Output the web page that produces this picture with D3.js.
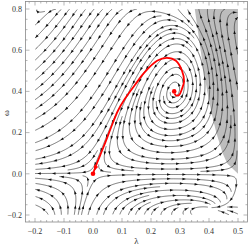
<!DOCTYPE html>
<html>
<head>
<meta charset="utf-8">
<script src="https://cdn.jsdelivr.net/npm/d3@7"></script>
<style>
  body { margin: 0; background: #fff; }
  svg { display: block; }
</style>
</head>
<body>
<svg id="chart" width="249" height="248"></svg>
<script>
// tick values
var lamTicks = [-0.2, -0.1, 0, 0.1, 0.2, 0.3, 0.4, 0.5];
var omTicks = [-0.2, 0, 0.2, 0.4, 0.6, 0.8];

// fixed points of the flow
var origin = [0, 0];
var focus = [0.28, 0.40];
var edgePt = [0.5, 0];

// red trajectory (lambda, omega), origin -> focus
var redPath = [[0, 0], [0.010, 0.039], [0.038, 0.136], [0.066, 0.238], [0.086, 0.306],
  [0.110, 0.364], [0.145, 0.432], [0.176, 0.490], [0.221, 0.549], [0.255, 0.563],
  [0.286, 0.549], [0.307, 0.500], [0.314, 0.451], [0.307, 0.413], [0.297, 0.383],
  [0.286, 0.381], [0.281, 0.389]];

// left edge of the grey region: [omega, lambda]
var grayEdge = [[0, 0.5], [0.05, 0.463], [0.1, 0.447], [0.2, 0.425], [0.3, 0.408],
  [0.4, 0.394], [0.5, 0.382], [0.6, 0.371], [0.7, 0.361], [0.8, 0.351]];

// flow direction read at sample points: [lambda, omega, dlambda, domega]
var flowSamples = [
  [-0.18, 0.78, -1, -0.9], [-0.1, 0.78, -1, -0.9], [-0.02, 0.78, -1, -0.9], [0.06, 0.78, -1, -0.85],
  [-0.18, 0.65, -1, -0.9], [-0.1, 0.65, -1, -0.9], [-0.02, 0.65, -1, -0.95], [0.06, 0.65, -1, -1.0],
  [-0.18, 0.5, -1, -0.85], [-0.1, 0.5, -1, -0.9], [-0.02, 0.5, -1, -0.95], [0.06, 0.5, -1, -1.2],
  [-0.18, 0.38, -1, -0.7], [-0.1, 0.38, -1, -0.8], [-0.02, 0.38, -1, -0.95], [0.05, 0.35, -0.6, -1],
  [-0.15, 0.25, -1, -0.5], [-0.05, 0.25, -1, -0.8],
  [-0.15, 0.13, -1, -0.25], [-0.05, 0.13, -1, -0.6],
  [-0.15, 0.05, -1, -0.08], [-0.05, 0.05, -1, -0.25],
  [-0.15, -0.07, -1, 0.15], [-0.05, -0.07, -1, 0.5],
  [-0.15, -0.17, -0.6, 1], [-0.05, -0.17, -0.2, 1],
  [0.05, -0.07, 1, 0.5], [0.05, -0.17, 0.3, 1],
  [0.15, -0.07, 1, 0.25], [0.15, -0.17, 1, 0.7],
  [0.25, -0.07, 1, 0.15], [0.25, -0.17, 1, 0.6],
  [0.35, -0.07, 1, 0.1], [0.35, -0.17, 1, 0.8],
  [0.45, -0.05, -1, -0.9], [0.43, -0.15, -0.2, -1], [0.49, -0.12, -0.6, -1],
  [0.1, 0.1, 1, -0.3], [0.2, 0.12, 1, -0.1], [0.3, 0.1, 1, 0.05],
  [0.2, 0.22, 1, -0.15], [0.3, 0.2, 1, 0.1], [0.38, 0.12, 1, 0.35], [0.42, 0.22, 1, 0.8],
  [0.37, 0.3, 0.5, 1], [0.36, 0.42, 0.05, 1], [0.34, 0.55, -0.4, 1],
  [0.3, 0.68, -1, 0.6], [0.22, 0.7, -1, 0.05], [0.14, 0.62, -1, -0.7], [0.12, 0.45, -0.5, -1],
  [0.15, 0.77, -1, -0.7], [0.26, 0.77, -1, -0.1], [0.34, 0.75, -0.4, 1],
  [0.42, 0.75, 0.1, 1], [0.48, 0.75, 0.14, 1], [0.42, 0.55, 0.12, 1], [0.47, 0.5, 0.18, 1],
  [0.45, 0.35, 0.25, 1], [0.48, 0.25, 0.4, 1], [0.47, 0.12, 0.9, 1],
  [0.3, 0.02, 1, 0.0], [0.45, 0.03, 1, 0.3]
];

// ---- fit the field  dl = l(1-2l) + w P(l,w),  dw = w G(l,w)  (P, G cubic)
function phi(l, w) { return [1, l, w, l * l, l * w, w * w, l * l * l, l * l * w, l * w * w, w * w * w]; }
function phiL(l, w) { return [0, 1, 0, 2 * l, w, 0, 3 * l * l, 2 * l * w, w * w, 0]; }
function phiW(l, w) { return [0, 0, 1, 0, l, 2 * w, 0, l * l, 2 * l * w, 3 * w * w]; }
var NB = 10, NU = 2 * NB;
function sc(a, k) { return a.map(function(v) { return v * k; }); }
function add(a, b) { return a.map(function(v, i) { return v + b[i]; }); }
var Z = new Array(NB).fill(0);
function unit(k) { var u = Z.slice(); u[0] = k; return u; }

function solve(A, b) {
  var n = b.length;
  var M = A.map(function(row, i) { return row.concat([b[i]]); });
  for (var c = 0; c < n; c++) {
    var p = c;
    for (var r = c + 1; r < n; r++) if (Math.abs(M[r][c]) > Math.abs(M[p][c])) p = r;
    var t = M[c]; M[c] = M[p]; M[p] = t;
    for (var r2 = 0; r2 < n; r2++) {
      if (r2 === c) continue;
      var k = M[r2][c] / M[c][c];
      for (var j = c; j <= n; j++) M[r2][j] -= k * M[c][j];
    }
  }
  return M.map(function(row, i) { return row[n] / row[i]; });
}

var ca = Z.slice(), cb = Z.slice();
function field(l, w) {
  var p = phi(l, w), P = 0, G = 0;
  for (var i = 0; i < NB; i++) { P += ca[i] * p[i]; G += cb[i] * p[i]; }
  return [l * (1 - 2 * l) + w * P, w * G];
}

var speeds = flowSamples.map(function() { return 0.3; });
for (var it = 0; it < 5; it++) {
  var rows = [];
  var addRow = function(cA, cB, rhs, wt) { rows.push({v: cA.concat(cB), r: rhs, wt: wt}); };
  flowSamples.forEach(function(s, si) {
    var l = s[0], w = s[1], m = Math.hypot(s[2], s[3]);
    var ux = s[2] / m, uy = s[3] / m, p = phi(l, w), f0 = l * (1 - 2 * l), sp = speeds[si];
    addRow(sc(p, w * uy), sc(p, -w * ux), -f0 * uy, 1 / sp);
    addRow(sc(p, w * ux), sc(p, w * uy), sp - f0 * ux, 0.25 / sp);
  });
  var lF = focus[0], wF = focus[1];
  var pF = phi(lF, wF), pLF = phiL(lF, wF), pWF = phiW(lF, wF);
  addRow(sc(pF, wF), Z, -lF * (1 - 2 * lF), 60);
  addRow(Z, pF, 0, 60);
  addRow(add(pF, sc(pWF, wF)), Z, -0.5, 15);
  addRow(Z, sc(pLF, wF), 2.0, 15);
  addRow(sc(pLF, wF), add(pF, sc(pWF, wF)), 0.18 - (1 - 4 * lF), 15);
  addRow(unit(1), unit(-0.25), -0.25, 20);
  addRow(Z, unit(1), -1, 8);
  addRow(Z, phi(edgePt[0], edgePt[1]), 0.6, 8);

  var NN = [], Nr = [];
  for (var i = 0; i < NU; i++) { NN.push(new Array(NU).fill(0)); Nr.push(0); NN[i][i] = 1e-6; }
  rows.forEach(function(R) {
    var w2 = R.wt * R.wt;
    for (var i = 0; i < NU; i++) {
      Nr[i] += w2 * R.v[i] * R.r;
      for (var j = 0; j < NU; j++) NN[i][j] += w2 * R.v[i] * R.v[j];
    }
  });
  var coef = solve(NN, Nr);
  ca = coef.slice(0, NB); cb = coef.slice(NB);
  speeds = flowSamples.map(function(s) {
    var v = field(s[0], s[1]);
    return Math.max(0.03, Math.hypot(v[0], v[1]));
  });
}

// ---- chart
var svg = d3.select("#chart");
var x = d3.scaleLinear().domain([-0.2, 0.5]).range([35, 238]);
var y = d3.scaleLinear().domain([-0.2, 0.8]).range([215, 9]);

var X0 = x(-0.2), X1 = x(0.5), Y0 = y(0.8), Y1 = y(-0.2);

svg.append("defs").append("clipPath").attr("id", "plot")
  .append("rect").attr("x", X0).attr("y", Y0).attr("width", X1 - X0).attr("height", Y1 - Y0);

// grey region
var grayPts = grayEdge.map(function(d) { return [d[1], d[0]]; }).concat([[0.5, 0.8], [0.5, 0]]);
svg.append("path")
  .attr("d", d3.line().x(function(d) { return x(d[0]); }).y(function(d) { return y(d[1]); })(grayPts) + "Z")
  .attr("fill", "#bdbdbd");

// ---- evenly spaced streamlines
var kx = x(1) - x(0), ky = y(0) - y(1);
function vel(px, py) {
  var v = field(x.invert(px), y.invert(py));
  var vx = v[0] * kx, vy = -v[1] * ky;
  return [vx, vy, Math.hypot(vx, vy)];
}
var dsep = 6.5, dtest = 3.2, h = 0.7;
var cs = dsep, gcols = Math.ceil((X1 - X0) / cs) + 1, grows = Math.ceil((Y1 - Y0) / cs) + 1;
var grid = [];
for (var g = 0; g < gcols * grows; g++) grid.push([]);
var dead = new Set();
function inside(px, py) { return px >= X0 && px <= X1 && py >= Y0 && py <= Y1; }
function addPt(px, py, id, seq) {
  var ci = Math.floor((px - X0) / cs), cj = Math.floor((py - Y0) / cs);
  grid[cj * gcols + ci].push({x: px, y: py, id: id, seq: seq});
}
function tooClose(px, py, d, id, seq) {
  var ci = Math.floor((px - X0) / cs), cj = Math.floor((py - Y0) / cs);
  for (var i = ci - 1; i <= ci + 1; i++) for (var j = cj - 1; j <= cj + 1; j++) {
    if (i < 0 || j < 0 || i >= gcols || j >= grows) continue;
    var c = grid[j * gcols + i];
    for (var k = 0; k < c.length; k++) {
      var q = c[k];
      if (dead.has(q.id)) continue;
      if (q.id === id && Math.abs(q.seq - seq) < 40) continue;
      var dx = q.x - px, dy = q.y - py;
      if (dx * dx + dy * dy < d * d) return true;
    }
  }
  return false;
}
function trace(sx, sy, id) {
  var fw = [], bw = [];
  [1, -1].forEach(function(dir) {
    var px = sx, py = sy, seq = 0, out = dir > 0 ? fw : bw;
    for (var n = 0; n < 1500; n++) {
      var v1 = vel(px, py); if (v1[2] < 1) break;
      var mx = px + dir * 0.5 * h * v1[0] / v1[2], my = py + dir * 0.5 * h * v1[1] / v1[2];
      var v2 = vel(mx, my); if (v2[2] < 1) break;
      var nx = px + dir * h * v2[0] / v2[2], ny = py + dir * h * v2[1] / v2[2];
      if (!inside(nx, ny)) break;
      seq += dir;
      if (tooClose(nx, ny, dtest, id, seq)) break;
      px = nx; py = ny;
      out.push([px, py]); addPt(px, py, id, seq);
    }
  });
  return bw.reverse().concat([[sx, sy]], fw);
}
var lines = [], nextId = 0;
function trySeed(px, py) {
  if (!inside(px, py)) return null;
  if (tooClose(px, py, dsep * 0.95, -1, 0)) return null;
  if (vel(px, py)[2] < 1) return null;
  var id = nextId++;
  addPt(px, py, id, 0);
  var pts = trace(px, py, id);
  if (pts.length * h < 10) { dead.add(id); return null; }
  var L = {id: id, pts: pts};
  lines.push(L);
  return L;
}
var queue = [];
function processQueue() {
  while (queue.length) {
    var L = queue.shift(), P = L.pts;
    for (var i = 0; i < P.length; i += 3) {
      var a = P[Math.max(0, i - 1)], b = P[Math.min(P.length - 1, i + 1)];
      var tx = b[0] - a[0], ty = b[1] - a[1], tm = Math.hypot(tx, ty) || 1;
      var nx = -ty / tm, ny = tx / tm;
      [1, -1].forEach(function(s) {
        var N = trySeed(P[i][0] + s * dsep * nx, P[i][1] + s * dsep * ny);
        if (N) queue.push(N);
      });
    }
  }
}
var first = trySeed(x(-0.1), y(0.6));
if (first) queue.push(first);
processQueue();
for (var gy = Y0 + 2; gy < Y1; gy += 4) {
  for (var gx = X0 + 2; gx < X1; gx += 4) {
    var N = trySeed(gx, gy);
    if (N) { queue.push(N); processQueue(); }
  }
}

var streams = svg.append("g").attr("clip-path", "url(#plot)");
streams.selectAll("path.stream").data(lines).enter().append("path")
  .attr("class", "stream")
  .attr("d", function(L) { return d3.line()(L.pts); })
  .attr("fill", "none").attr("stroke", "#1e1e1e").attr("stroke-width", 0.6);

// arrowheads along each streamline
var heads = [];
lines.forEach(function(L) {
  var P = L.pts, acc = 0, next = 7;
  for (var i = 1; i < P.length; i++) {
    acc += Math.hypot(P[i][0] - P[i - 1][0], P[i][1] - P[i - 1][1]);
    if (acc >= next && i < P.length - 2) {
      var a = P[i - 1], b = P[Math.min(P.length - 1, i + 1)];
      var tx = b[0] - a[0], ty = b[1] - a[1], tm = Math.hypot(tx, ty) || 1;
      heads.push([P[i][0], P[i][1], tx / tm, ty / tm]);
      next += 15;
    }
  }
});
streams.selectAll("path.head").data(heads).enter().append("path")
  .attr("class", "head")
  .attr("d", function(d) {
    var px = d[0], py = d[1], ux = d[2], uy = d[3], nx = -uy, ny = ux;
    return "M" + (px + 1.9 * ux) + "," + (py + 1.9 * uy) +
      "L" + (px - 1.6 * ux + 1.25 * nx) + "," + (py - 1.6 * uy + 1.25 * ny) +
      "L" + (px - 1.6 * ux - 1.25 * nx) + "," + (py - 1.6 * uy - 1.25 * ny) + "Z";
  })
  .attr("fill", "#111");

// red trajectory
svg.append("path")
  .attr("d", d3.line().x(function(d) { return x(d[0]); }).y(function(d) { return y(d[1]); })
    .curve(d3.curveCatmullRom)(redPath))
  .attr("fill", "none").attr("stroke", "#ff0000").attr("stroke-width", 1.8);
(function() {
  var p0 = [x(redPath[0][0]), y(redPath[0][1])], p1 = [x(redPath[2][0]), y(redPath[2][1])];
  var ux = p0[0] - p1[0], uy = p0[1] - p1[1], m = Math.hypot(ux, uy);
  ux /= m; uy /= m;
  var tx = p0[0] - 2.5 * ux, ty = p0[1] - 2.5 * uy, nx = -uy, ny = ux;
  svg.append("path")
    .attr("d", "M" + tx + "," + ty + "L" + (tx - 6 * ux + 2.2 * nx) + "," + (ty - 6 * uy + 2.2 * ny) +
      "L" + (tx - 6 * ux - 2.2 * nx) + "," + (ty - 6 * uy - 2.2 * ny) + "Z")
    .attr("fill", "#ff0000");
})();
svg.selectAll("circle.fp").data([origin, focus]).enter().append("circle")
  .attr("class", "fp")
  .attr("cx", function(d) { return x(d[0]); }).attr("cy", function(d) { return y(d[1]); })
  .attr("r", 2.3).attr("fill", "#ff0000");

// ---- frame and ticks
var FL = 25.5, FR = 247.5, FT = 1.5, FB = 222;
svg.append("rect").attr("x", FL).attr("y", FT).attr("width", FR - FL).attr("height", FB - FT)
  .attr("fill", "none").attr("stroke", "#888").attr("stroke-width", 0.8);

var minorX = d3.range(-22, 53, 2).map(function(v) { return v / 100; });
var minorY = d3.range(-20, 81, 5).map(function(v) { return v / 100; });
var tk = svg.append("g").attr("stroke", "#888").attr("stroke-width", 0.6);
function isMajor(v, arr) { return arr.some(function(t) { return Math.abs(t - v) < 1e-6; }); }
minorX.forEach(function(v) {
  var len = isMajor(v, lamTicks) ? 4 : 2;
  tk.append("line").attr("x1", x(v)).attr("x2", x(v)).attr("y1", FB).attr("y2", FB - len);
  tk.append("line").attr("x1", x(v)).attr("x2", x(v)).attr("y1", FT).attr("y2", FT + len);
});
minorY.forEach(function(v) {
  var len = isMajor(v, omTicks) ? 4 : 2;
  tk.append("line").attr("x1", FL).attr("x2", FL + len).attr("y1", y(v)).attr("y2", y(v));
  tk.append("line").attr("x1", FR).attr("x2", FR - len).attr("y1", y(v)).attr("y2", y(v));
});

function fmt(v) { var s = d3.format(".1f")(Math.abs(v)); return (v < -1e-9 ? "\u2212" : "") + s; }
svg.append("g").selectAll("text").data(lamTicks).enter().append("text")
  .attr("x", function(d) { return x(d); }).attr("y", 234)
  .attr("text-anchor", "middle").attr("font-family", "Liberation Serif, serif")
  .attr("font-size", 8).attr("fill", "#333").text(fmt);
svg.append("g").selectAll("text").data(omTicks).enter().append("text")
  .attr("x", 22).attr("y", function(d) { return y(d) + 2.8; })
  .attr("text-anchor", "end").attr("font-family", "Liberation Serif, serif")
  .attr("font-size", 8).attr("fill", "#333").text(fmt);

svg.append("text").attr("x", (FL + FR) / 2).attr("y", 244)
  .attr("text-anchor", "middle").attr("font-family", "Liberation Serif, serif")
  .attr("font-size", 9).attr("fill", "#333").text("\u03bb");
svg.append("text").attr("transform", "translate(9,113) rotate(-90)")
  .attr("text-anchor", "middle").attr("font-family", "Liberation Serif, serif")
  .attr("font-size", 9).attr("fill", "#333").text("\u03c9");
</script>
</body>
</html>
